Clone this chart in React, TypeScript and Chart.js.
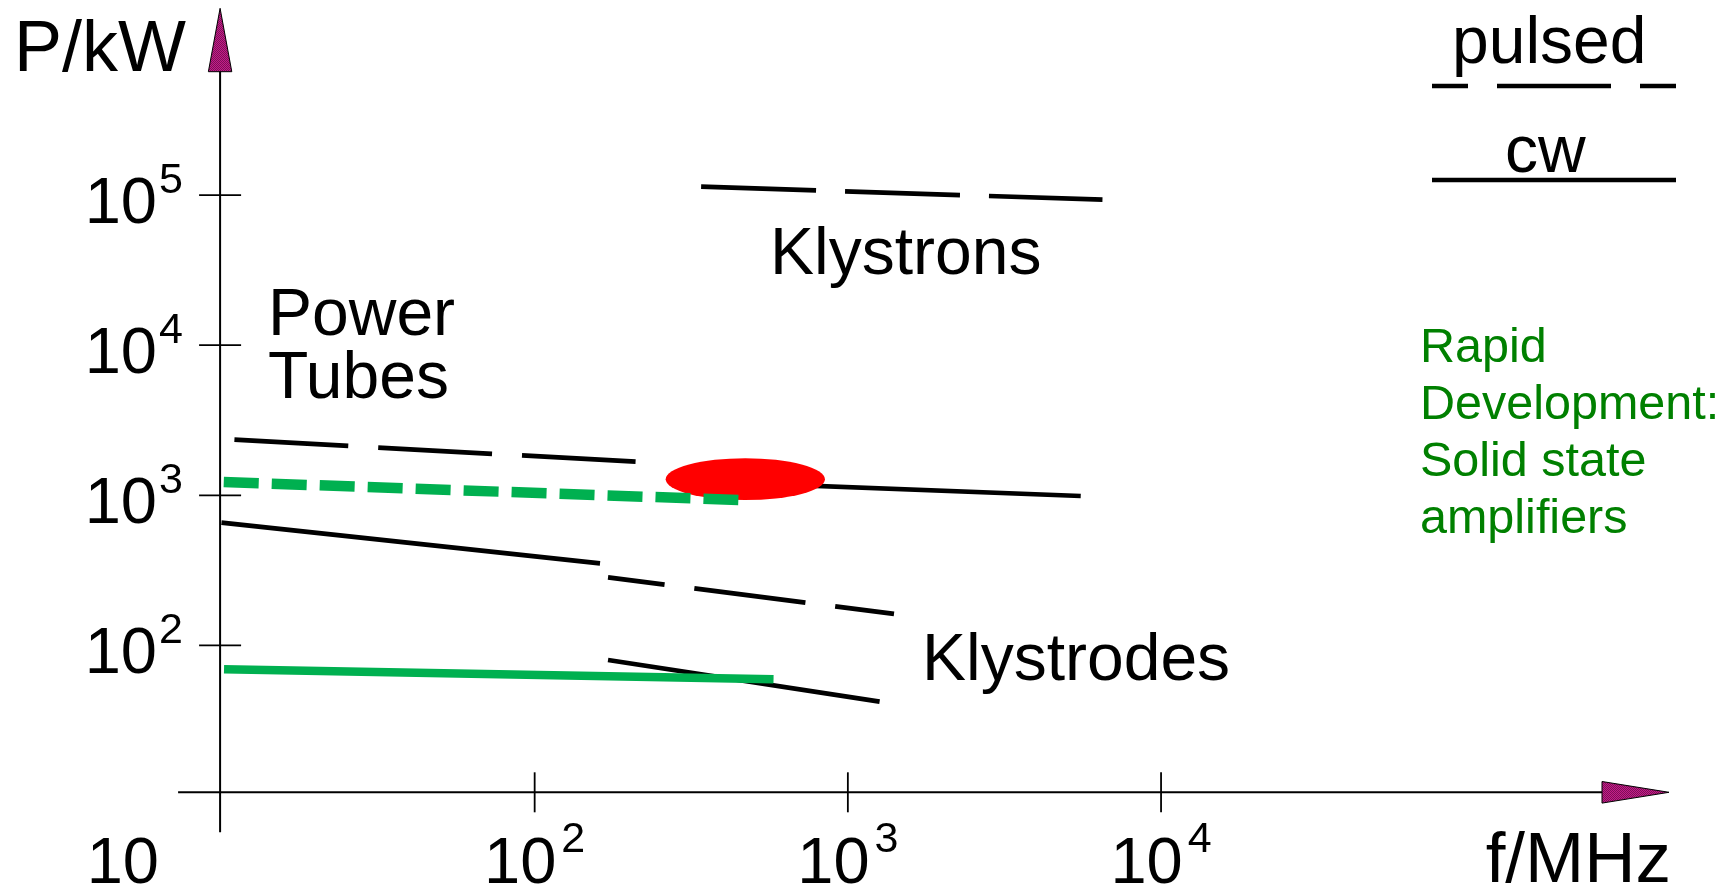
import { useEffect, useRef } from "react";
import { Chart, registerables } from "chart.js";

Chart.register(...registerables);

// ---------- data (f in MHz, P in kW) ----------
const xTickValues = [10, 100, 1000, 10000];
const xTickExponents = ["", "2", "3", "4"];
const yTickValues = [100, 1000, 10000, 100000];
const yTickExponents = ["2", "3", "4", "5"];

const klystronPulsedF = [340, 6500];
const klystronPulsedP = [113800, 93200];

const tubePulsedF = [11.0, 210];
const tubePulsedP = [2346, 1674];

const tubeCwF = [313, 5540];
const tubeCwP = [1241, 989];

const solidPulsedF = [10.17, 447];
const solidPulsedP = [1226, 930];

const solidCwF = [10.19, 579];
const solidCwP = [69.3, 59.4];

const klystrodeCwF = [10, 161.7];
const klystrodeCwP = [657, 352];

const klystrodePulsedF = [171.5, 1404];
const klystrodePulsedP = [284, 162];

const klystrodeCw2F = [171.5, 1263];
const klystrodeCw2P = [79.9, 42.2];

// red ellipse extent: [min, max]
const ellipseF = [262, 845];
const ellipseP = [930, 1764];

// axis crossing values
const yAxisAtF = 9.9;
const xAxisAtP = 10.5;

// scale bounds
const xMin = 1.963;
const xMax = 645900;
const yMin = 2.419;
const yMax = 1994000;

const axisTitleY = "P/kW";
const axisTitleX = "f/MHz";
const tubeLabel = ["Power", "Tubes"];
const klystronLabel = "Klystrons";
const klystrodeLabel = "Klystrodes";
const solidLabel = ["Rapid", "Development:", "Solid state", "amplifiers"];
const legendLabels = ["pulsed", "cw"];

const FONT = '"Liberation Sans", Arial, Helvetica, sans-serif';
const GREEN_LINE = "#00b050";
const GREEN_TEXT = "#008000";

function pts(fs: number[], ps: number[]) {
  return fs.map((f, i) => ({ x: f, y: ps[i] }));
}

function makePattern(ctx: CanvasRenderingContext2D) {
  const c = document.createElement("canvas");
  c.width = 2;
  c.height = 2;
  const p = c.getContext("2d")!;
  p.fillStyle = "#c41d88";
  p.fillRect(0, 0, 2, 2);
  p.fillStyle = "#7e0f58";
  p.fillRect(0, 0, 1, 1);
  p.fillRect(1, 1, 1, 1);
  return ctx.createPattern(c, "repeat") || "#a3186f";
}

const overlayPlugin = {
  id: "overlay",
  beforeDatasetsDraw(chart: any) {
    const ctx: CanvasRenderingContext2D = chart.ctx;
    const xs = chart.scales.x;
    const ys = chart.scales.y;
    const ax = xs.getPixelForValue(yAxisAtF);
    const ay = ys.getPixelForValue(xAxisAtP);
    ctx.save();
    ctx.strokeStyle = "#000";
    ctx.lineWidth = 2;
    ctx.lineCap = "butt";
    // y axis
    ctx.beginPath();
    ctx.moveTo(ax, ay + 40);
    ctx.lineTo(ax, 71);
    ctx.stroke();
    // x axis
    ctx.beginPath();
    ctx.moveTo(ax - 42, ay);
    ctx.lineTo(1602, ay);
    ctx.stroke();
    // ticks
    ctx.lineWidth = 1.8;
    yTickValues.forEach((v) => {
      const y = ys.getPixelForValue(v);
      ctx.beginPath();
      ctx.moveTo(ax - 21, y);
      ctx.lineTo(ax + 21, y);
      ctx.stroke();
    });
    xTickValues.forEach((v) => {
      const x = xs.getPixelForValue(v);
      if (Math.abs(x - ax) < 4) return;
      ctx.beginPath();
      ctx.moveTo(x, ay - 20);
      ctx.lineTo(x, ay + 20);
      ctx.stroke();
    });
    // arrows
    const pat = makePattern(ctx);
    ctx.fillStyle = pat as any;
    ctx.lineWidth = 1;
    ctx.beginPath();
    ctx.moveTo(ax, 8.3);
    ctx.lineTo(ax + 11.7, 71.7);
    ctx.lineTo(ax - 11.7, 71.7);
    ctx.closePath();
    ctx.fill();
    ctx.stroke();
    ctx.beginPath();
    ctx.moveTo(1669, ay);
    ctx.lineTo(1602, ay - 10.8);
    ctx.lineTo(1602, ay + 10.8);
    ctx.closePath();
    ctx.fill();
    ctx.stroke();
    ctx.restore();
  },
  beforeDatasetDraw(chart: any, args: any) {
    const ds = chart.data.datasets[args.index];
    if (ds.label !== "Solid state (cw)") return;
    const ctx: CanvasRenderingContext2D = chart.ctx;
    const xs = chart.scales.x;
    const ys = chart.scales.y;
    const x0 = xs.getPixelForValue(ellipseF[0]);
    const x1 = xs.getPixelForValue(ellipseF[1]);
    const y0 = ys.getPixelForValue(ellipseP[0]);
    const y1 = ys.getPixelForValue(ellipseP[1]);
    ctx.save();
    ctx.fillStyle = "#ff0000";
    ctx.beginPath();
    ctx.ellipse((x0 + x1) / 2, (y0 + y1) / 2, Math.abs(x1 - x0) / 2, Math.abs(y1 - y0) / 2, 0, 0, Math.PI * 2);
    ctx.fill();
    ctx.restore();
  },
  afterDraw(chart: any) {
    const ctx: CanvasRenderingContext2D = chart.ctx;
    const xs = chart.scales.x;
    const ys = chart.scales.y;
    ctx.save();
    ctx.fillStyle = "#000";
    ctx.textBaseline = "alphabetic";

    // x tick labels
    xTickValues.forEach((v, i) => {
      const x = xs.getPixelForValue(v);
      const base = "10";
      const exp = xTickExponents[i];
      if (!exp) {
        ctx.font = `65px ${FONT}`;
        ctx.textAlign = "right";
        ctx.fillText(base, 159, 883);
        return;
      }
      ctx.font = `65px ${FONT}`;
      const w1 = ctx.measureText(base).width;
      ctx.font = `43px ${FONT}`;
      const w2 = ctx.measureText(exp).width;
      const start = x - (w1 + 5 + w2) / 2;
      ctx.textAlign = "left";
      ctx.font = `65px ${FONT}`;
      ctx.fillText(base, start, 883);
      ctx.font = `43px ${FONT}`;
      ctx.fillText(exp, start + w1 + 5, 852);
    });

    // y tick labels
    yTickValues.forEach((v, i) => {
      const y = ys.getPixelForValue(v);
      ctx.font = `65px ${FONT}`;
      ctx.textAlign = "right";
      ctx.fillText("10", 157, y + 28);
      ctx.font = `43px ${FONT}`;
      ctx.textAlign = "left";
      ctx.fillText(yTickExponents[i], 159, y - 2);
    });

    // axis titles
    ctx.textAlign = "left";
    ctx.font = `72px ${FONT}`;
    ctx.fillText(axisTitleY, 14, 71);
    ctx.font = `71px ${FONT}`;
    ctx.textAlign = "right";
    ctx.fillText(axisTitleX, 1671, 882);

    // annotations
    ctx.textAlign = "left";
    ctx.font = `66px ${FONT}`;
    ctx.fillText(tubeLabel[0], 268, 335);
    ctx.fillText(tubeLabel[1], 268, 398);
    ctx.fillText(klystronLabel, 770, 274);
    ctx.fillText(klystrodeLabel, 922, 680);

    // legend
    ctx.fillText(legendLabels[0], 1452, 63);
    ctx.fillText(legendLabels[1], 1505, 172);
    ctx.strokeStyle = "#000";
    ctx.lineWidth = 4.5;
    ctx.lineCap = "butt";
    [[1432, 1468], [1497, 1611], [1640, 1676]].forEach(([a, b]) => {
      ctx.beginPath();
      ctx.moveTo(a, 86);
      ctx.lineTo(b, 86);
      ctx.stroke();
    });
    ctx.beginPath();
    ctx.moveTo(1432, 180);
    ctx.lineTo(1676, 180);
    ctx.stroke();

    // solid state note
    ctx.fillStyle = GREEN_TEXT;
    ctx.font = `48.5px ${FONT}`;
    solidLabel.forEach((t, i) => {
      ctx.fillText(t, 1420, 361.5 + i * 57.2);
    });
    ctx.restore();
  },
};

export default function App() {
  const ref = useRef<HTMLCanvasElement | null>(null);

  useEffect(() => {
    document.body.style.margin = "0";
    document.body.style.overflow = "hidden";
    const canvas = ref.current;
    if (!canvas) return;
    const black = "#000000";
    const lw = 4.7;
    const common = { pointRadius: 0, pointHoverRadius: 0, fill: false, tension: 0 };
    const chart = new Chart(canvas, {
      type: "line",
      data: {
        datasets: [
          {
            ...common,
            label: "Solid state (pulsed)",
            data: pts(solidPulsedF, solidPulsedP),
            borderColor: GREEN_LINE,
            borderWidth: 10.5,
            borderDash: [35, 13],
          },
          {
            ...common,
            label: "Solid state (cw)",
            data: pts(solidCwF, solidCwP),
            borderColor: GREEN_LINE,
            borderWidth: 8.5,
          },
          {
            ...common,
            label: "Power tubes (cw)",
            data: pts(tubeCwF, tubeCwP),
            borderColor: black,
            borderWidth: lw,
          },
          {
            ...common,
            label: "Power tubes (pulsed)",
            data: pts(tubePulsedF, tubePulsedP),
            borderColor: black,
            borderWidth: lw,
            borderDash: [114, 30],
          },
          {
            ...common,
            label: "Klystrons (pulsed)",
            data: pts(klystronPulsedF, klystronPulsedP),
            borderColor: black,
            borderWidth: lw,
            borderDash: [115, 29],
          },
          {
            ...common,
            label: "Klystrodes (cw)",
            data: pts(klystrodeCwF, klystrodeCwP),
            borderColor: black,
            borderWidth: lw,
          },
          {
            ...common,
            label: "Klystrodes (pulsed)",
            data: pts(klystrodePulsedF, klystrodePulsedP),
            borderColor: black,
            borderWidth: lw,
            borderDash: [112, 30],
            borderDashOffset: 55,
          },
          {
            ...common,
            label: "Klystrodes (cw, 2)",
            data: pts(klystrodeCw2F, klystrodeCw2P),
            borderColor: black,
            borderWidth: lw,
          },
        ],
      },
      options: {
        animation: false,
        responsive: false,
        devicePixelRatio: 1,
        layout: { padding: 0 },
        events: [],
        plugins: {
          legend: { display: false },
          tooltip: { enabled: false },
          title: { display: false },
        },
        scales: {
          x: {
            type: "logarithmic",
            min: xMin,
            max: xMax,
            bounds: "data",
            display: false,
          },
          y: {
            type: "logarithmic",
            min: yMin,
            max: yMax,
            bounds: "data",
            display: false,
          },
        },
      } as any,
      plugins: [overlayPlugin as any],
    });
    return () => chart.destroy();
  }, []);

  return (
    <div style={{ position: "absolute", left: 0, top: 0, width: 1728, height: 888, background: "#fff" }}>
      <canvas ref={ref} width={1728} height={888} style={{ display: "block", width: 1728, height: 888 }} />
    </div>
  );
}
